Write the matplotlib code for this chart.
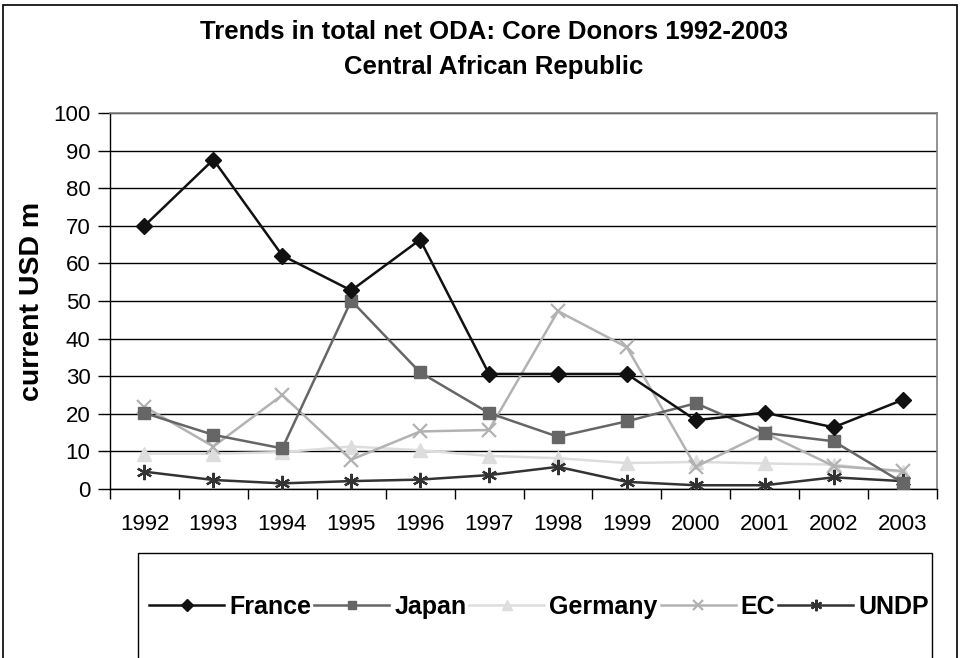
import matplotlib
matplotlib.use("Agg")
import matplotlib.pyplot as plt
from matplotlib.patches import Rectangle

plt.rcParams['font.family'] = ['Liberation Sans', 'DejaVu Sans']

years = ['1992', '1993', '1994', '1995', '1996', '1997', '1998', '1999', '2000', '2001', '2002', '2003']
france = [70.0, 87.6, 62.1, 52.8, 66.3, 30.6, 30.6, 30.6, 18.3, 20.3, 16.4, 23.7]
japan = [20.2, 14.4, 10.8, 50.1, 31.0, 20.2, 13.9, 18.0, 22.8, 14.9, 12.7, 1.7]
germany = [9.4, 9.4, 9.8, 11.3, 10.3, 8.8, 8.2, 6.9, 7.2, 6.8, 6.5, 4.5]
ec = [21.9, 11.3, 25.0, 7.8, 15.3, 15.7, 47.3, 37.7, 5.9, 14.9, 6.1, 4.8]
undp = [4.6, 2.4, 1.5, 2.1, 2.5, 3.7, 5.9, 1.9, 1.0, 1.0, 3.1, 2.1]

W, H = 964, 658
fig = plt.figure(figsize=(W / 100, H / 100), dpi=100)
ax = fig.add_axes([110 / W, 1 - 489 / H, (937 - 110) / W, (489 - 113) / H])

x = list(range(len(years)))
ax.plot(x, france, color='#111111', lw=1.8, marker='D', ms=8, label='France', zorder=6)
ax.plot(x, japan, color='#666666', lw=1.8, marker='s', ms=8.5, label='Japan', zorder=5)
ax.plot(x, germany, color='#dddddd', lw=1.8, marker='^', ms=9.5, label='Germany', zorder=3)
ax.plot(x, ec, color='#b2b2b2', lw=1.8, marker='x', ms=10, mew=1.6, label='EC', zorder=4)
ax.plot(x, undp, color='#333333', lw=1.8, marker=(6, 2, 0), ms=11, mew=1.6, label='UNDP', zorder=4)

ax.set_xlim(-0.5, len(years) - 0.5)
ax.set_ylim(0, 100)
ax.set_yticks(range(0, 101, 10))
ax.set_xticks(x)
ax.set_xticklabels(years)
ax.set_xticks([i - 0.5 for i in range(len(years) + 1)], minor=True)
ax.tick_params(axis='x', which='major', length=0, pad=18, labelsize=16)
ax.tick_params(axis='x', which='minor', length=7, width=1, direction='out', color='black')
ax.tick_params(axis='y', length=9, width=1, direction='out', labelsize=16, pad=5)
ax.yaxis.grid(True, color='black', lw=1)
ax.set_axisbelow(True)
for s in ['top', 'right']:
    ax.spines[s].set_color('#808080')
    ax.spines[s].set_linewidth(1.2)
for s in ['left', 'bottom']:
    ax.spines[s].set_color('black')
    ax.spines[s].set_linewidth(1)

ax.set_ylabel('current USD m', fontsize=20.5, fontweight='bold')
ax.yaxis.set_label_coords(-(110 - 45) / (937 - 110), 0.5)

fig.text(494 / W, 1 - 32 / H, 'Trends in total net ODA: Core Donors 1992-2003',
         ha='center', va='center', fontsize=18.5, fontweight='bold')
fig.text(494 / W, 1 - 67 / H, 'Central African Republic',
         ha='center', va='center', fontsize=18.5, fontweight='bold')

# outer chart frame and legend box
fig.patches.append(Rectangle((3 / W, 1 - 700 / H), (957 - 3) / W, (700 - 5) / H,
                             transform=fig.transFigure, fill=False, ec='black', lw=1.2))
fig.patches.append(Rectangle((138 / W, 1 - 700 / H), (932 - 138) / W, (700 - 553) / H,
                             transform=fig.transFigure, fill=False, ec='black', lw=1))

fig.legend(loc='center', bbox_to_anchor=(539 / W, 1 - 607 / H), ncol=5, frameon=False,
           prop={'weight': 'bold', 'size': 18}, handlelength=3, handletextpad=0.2,
           columnspacing=0.12, borderpad=0, markerscale=0.75)

fig.savefig('out.png', dpi=100)
